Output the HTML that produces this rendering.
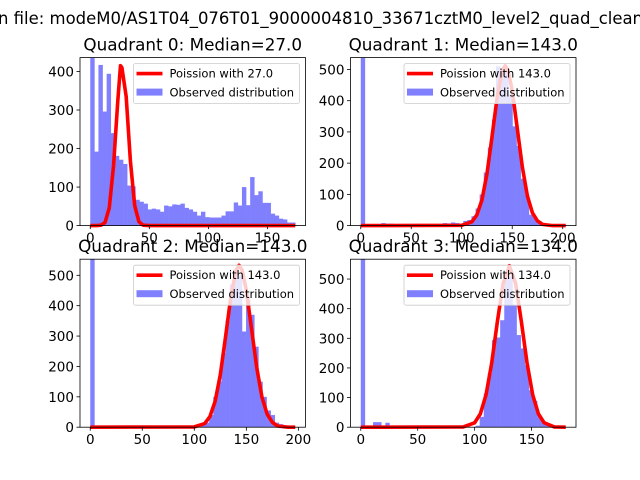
<!DOCTYPE html>
<html><head><meta charset="utf-8"><style>
html,body{margin:0;padding:0;background:#fff;}
svg{display:block;font-family:"DejaVu Sans","Liberation Sans",sans-serif;}
</style></head><body>
<svg id="fig" width="640" height="480" viewBox="0 0 640 480">
<rect width="640" height="480" fill="#fff"/>
<text x="-2" y="24" font-size="16.5" textLength="645" lengthAdjust="spacingAndGlyphs">n file: modeM0/AS1T04_076T01_9000004810_33671cztM0_level2_quad_clean</text>
</svg>
<script>
// ---- data ----
const titles = ["Quadrant 0: Median=27.0","Quadrant 1: Median=143.0","Quadrant 2: Median=143.0","Quadrant 3: Median=134.0"];
const legendLabels = ["Poission with 27.0","Poission with 143.0","Poission with 143.0","Poission with 134.0"];
const dataMax = [173.5, 203, 197, 180];
const yMaxes = [436, 538, 553, 567];
const xTicks0 = [0,50,100,150];
const xTicks1 = [0,50,100,150,200];
const xTicks2 = [0,50,100,150,200];
const xTicks3 = [0,50,100,150];
const yTicks0 = [0,100,200,300,400];
const yTicks1 = [0,100,200,300,400,500];
const yTicks2 = [0,100,200,300,400,500];
const yTicks3 = [0,100,200,300,400,500];
const counts0 = [440,192,417,296,394,240,181,171,160,104,102,67,62,57,42,44,42,36,52,50,55,54,57,46,42,36,26,36,22,21,21,21,26,37,37,60,52,100,53,126,79,89,59,59,31,26,18,16,8,8];
const counts1 = [560,3,3,3,5,8,6,6,5,5,4,5,5,4,4,4,4,4,5,5,8,7,10,8,5,15,18,30,55,100,170,250,340,510,500,500,420,318,255,150,100,35,25,14,8,4,2,1,0,0];
const counts2 = [560,0,0,0,0,0,0,0,0,0,0,0,0,0,0,0,0,0,0,0,0,0,5,0,0,0,0,10,15,40,100,150,245,350,470,490,500,315,420,370,265,150,100,55,40,15,10,5,3,2];
const counts3 = [580,0,0,17,17,0,15,0,0,0,0,0,0,0,0,0,0,0,0,0,5,0,0,5,0,5,0,0,5,35,114,181,294,303,361,513,508,412,311,266,209,125,89,40,21,12,5,3,1,0];
const curveX0 = [0,5.4,9.0,12.5,16.1,19.7,23.3,25.6,26.8,30.4,34.0,37.6,41.2,44.8,50,173.5];
const curveY0 = [0,0,1,8,46,155,323,415,410,335,167,52,10,1,0,0];
const curveX1 = [0,100,110,115,120,125,130,135,140,143,146,150,155,160,165,170,175,180,190,203];
const curveY1 = [0,1,12,34,82,166,285,409,496,512,496,432,311,188,95,41,15,4,0,0];
const curveX2 = [0,100,110,115,120,125,130,135,140,143,146,150,155,160,165,170,175,180,190,197];
const curveY2 = [0,1,12,35,85,173,297,426,516,533,516,450,324,196,99,43,16,4,0,0];
const curveX3 = [0,90,100,105,110,115,120,125,130.5,136,141,146,151,156,161,170,180];
const curveY3 = [0,1,15,45,109,217,357,485,545,485,357,217,109,45,15,1,0];

const counts=[counts0,counts1,counts2,counts3];
const cx=[curveX0,curveX1,curveX2,curveX3], cy=[curveY0,curveY1,curveY2,curveY3];
const xt=[xTicks0,xTicks1,xTicks2,xTicks3], yt=[yTicks0,yTicks1,yTicks2,yTicks3];
const NS="http://www.w3.org/2000/svg";
const svg=document.getElementById('fig');
function mk(tag,attrs,parent){const e=document.createElementNS(NS,tag);for(const k in attrs)e.setAttribute(k,attrs[k]);(parent||svg).appendChild(e);return e;}
const boxes=[[80,57.6],[350.5,57.6],[80,259.2],[350.5,259.2]];
const W=225.5,H=168;
for(let p=0;p<4;p++){
  const [L,T]=boxes[p];
  const g=mk('g',{});
  
  
  const D=dataMax[p], x0=-0.05*D, x1=1.05*D, ym=yMaxes[p];
  const xs=v=>L+(v-x0)/(x1-x0)*W;
  const ys=v=>T+H-Math.min(v,ym)/ym*H;
  const cp=mk('clipPath',{id:'cp'+p},g);
  mk('rect',{x:L,y:T,width:W,height:H},cp);
  const c=counts[p], bw=D/c.length;
  const bars=mk('g',{'clip-path':'url(#cp'+p+')'},g);
  for(let i=0;i<c.length;i++){
    if(c[i]<=0) continue;
    const r=mk('rect',{x:xs(i*bw),y:ys(c[i]),width:xs((i+1)*bw)-xs(i*bw)+0.3,height:ys(0)-ys(c[i]),fill:'#8080ff'},bars);
    
    
  }
  let d='';
  for(let i=0;i<cx[p].length;i++) d+=(i?'L':'M')+xs(cx[p][i]).toFixed(2)+','+ys(cy[p][i]).toFixed(2);
  const ln=mk('path',{d:d,fill:'none',stroke:'#ff0000','stroke-width':3.6,'stroke-linejoin':'round'},g);
  
  
  const fr=mk('rect',{x:L,y:T,width:W,height:H,fill:'none',stroke:'#000','stroke-width':0.8},g);
  
  
  xt[p].forEach(v=>{
    const X=xs(v);
    mk('line',{x1:X,x2:X,y1:T+H,y2:T+H+3.5,stroke:'#000','stroke-width':0.8},g);
    const t=mk('text',{x:X,y:T+H+17,'font-size':13.5,'text-anchor':'middle'},g);
    t.textContent=v;
    
    
  });
  yt[p].forEach(v=>{
    const Y=ys(v);
    mk('line',{x1:L-3.5,x2:L,y1:Y,y2:Y,stroke:'#000','stroke-width':0.8},g);
    const t=mk('text',{x:L-6,y:Y+5,'font-size':13.5,'text-anchor':'end'},g);
    t.textContent=v;
    
    
  });
  const tt=mk('text',{x:L+W/2,y:T-7,'font-size':16.8,'text-anchor':'middle'},g);
  tt.textContent=titles[p];
  
  
  // legend
  const lg=mk('g',{},g);
  
  
  const lx=L+W-172, ly=T+6;
  mk('rect',{x:lx,y:ly,width:166,height:40,rx:2,fill:'#fff','fill-opacity':0.8,stroke:'#ccc','stroke-width':0.8},lg);
  mk('line',{x1:lx+3,x2:lx+29,y1:ly+10,y2:ly+10,stroke:'#ff0000','stroke-width':3.6},lg);
  mk('rect',{x:lx+3,y:ly+25,width:26,height:7,fill:'#8080ff'},lg);
  const t1=mk('text',{x:lx+36,y:ly+14,'font-size':11.5},lg);
  t1.textContent=legendLabels[p];
  
  
  const t2=mk('text',{x:lx+36,y:ly+33,'font-size':11.5},lg);
  t2.textContent='Observed distribution';
  
  
}
</script>
</body></html>
